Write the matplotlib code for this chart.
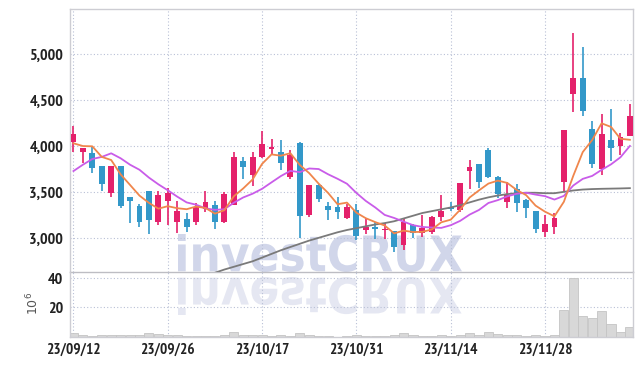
import numpy as np
import matplotlib
matplotlib.use("Agg")
import matplotlib.pyplot as plt
from matplotlib.textpath import TextPath
from matplotlib.patches import PathPatch
from matplotlib.font_manager import FontProperties
from matplotlib import font_manager as fm
import matplotlib.transforms as mtransforms
import os

# ---------------- data ----------------
opens = [4050, 3941, 3927, 3786, 3496, 3786, 3449, 3354, 3514, 3180,
         3409, 3173, 3210, 3173, 3318, 3362, 3173, 3362, 3840, 3688,
         3880, 3971, 3934, 3670, 4039, 3253, 3579, 3351, 3340, 3217,
         3307, 3090, 3127, 3087, 3080, 2927, 3144, 3054, 3072, 3228,
         3336, 3307, 3735, 3804, 3963, 3670, 3398, 3536, 3416, 3296,
         3065, 3119, 3609, 4569, 4746, 4188, 3753, 4069, 4007, 4116]
highs = [4224, 3985, 3996, 3786, 3786, 3786, 3449, 3369, 3514, 3514,
         3551, 3405, 3271, 3380, 3514, 3405, 3500, 3942, 3884, 3934,
         4166, 4080, 4069, 3956, 4051, 3579, 3590, 3391, 3453, 3369,
         3369, 3217, 3173, 3163, 3080, 3210, 3150, 3253, 3240, 3471,
         3391, 3598, 3851, 3804, 3978, 3681, 3616, 3587, 3430, 3296,
         3253, 3271, 4177, 5228, 5076, 4279, 4348, 4402, 4141, 4460]
lows = [3935, 3815, 3706, 3514, 3453, 3333, 3163, 3123, 3050, 3144,
        3144, 3054, 3072, 3144, 3289, 3101, 3165, 3362, 3644, 3572,
        3870, 3913, 3742, 3641, 2999, 3235, 3391, 3199, 3210, 3210,
        2981, 3043, 2992, 2989, 2847, 2872, 2999, 3018, 3043, 3188,
        3296, 3290, 3536, 3543, 3652, 3434, 3333, 3289, 3224, 3054,
        3018, 3043, 3507, 4369, 4326, 3768, 3688, 3844, 3905, 4110]
closes = [4134, 3982, 3761, 3590, 3786, 3354, 3409, 3180, 3198, 3471,
          3489, 3296, 3127, 3344, 3391, 3180, 3482, 3884, 3771, 3884,
          4025, 3996, 3815, 3905, 3246, 3579, 3427, 3307, 3289, 3340,
          3028, 3127, 3098, 3101, 2909, 3180, 3054, 3108, 3228, 3300,
          3318, 3598, 3771, 3616, 3670, 3482, 3471, 3387, 3333, 3101,
          3152, 3224, 4177, 4746, 4384, 3807, 4134, 3985, 4098, 4333]
volumes = [2.7, 1.2, 0.5, 1.2, 1.2, 1.2, 1.2, 1.2, 2.7, 2.0,
           1.2, 1.2, 0.5, 0.5, 0.5, 0.5, 1.2, 3.5, 1.2, 1.2,
           1.2, 0.5, 1.2, 0.5, 2.7, 1.2, 0.5, 0.5, 0.1, 0.3,
           1.2, 0.5, 0.5, 0.5, 1.2, 2.7, 1.2, 0.5, 0.5, 1.2,
           0.5, 1.2, 2.7, 1.2, 3.2, 2.0, 1.2, 1.2, 0.5, 1.2,
           0.5, 1.2, 18.0, 40.0, 14.0, 12.5, 17.3, 8.4, 3.0, 6.5]
ma5 = [4033, 4003, 4000, 3885, 3851, 3695, 3580, 3464, 3385, 3322,
       3349, 3327, 3316, 3345, 3329, 3268, 3305, 3456, 3542, 3640,
       3809, 3912, 3898, 3925, 3797, 3708, 3594, 3493, 3370, 3388,
       3278, 3218, 3176, 3139, 3053, 3083, 3068, 3070, 3096, 3174,
       3202, 3310, 3443, 3521, 3595, 3627, 3602, 3525, 3469, 3355,
       3289, 3239, 3397, 3680, 3937, 4068, 4250, 4211, 4082, 4071]
ma10 = [3731, 3800, 3862, 3885, 3924, 3870, 3800, 3745, 3660, 3587,
        3522, 3453, 3390, 3365, 3326, 3309, 3316, 3386, 3444, 3485,
        3538, 3608, 3677, 3733, 3719, 3759, 3753, 3696, 3647, 3593,
        3493, 3406, 3335, 3254, 3221, 3181, 3143, 3123, 3117, 3113,
        3142, 3189, 3257, 3308, 3384, 3415, 3456, 3484, 3495, 3475,
        3458, 3421, 3461, 3574, 3646, 3678, 3744, 3804, 3881, 4004]
ma_long = [None] * 15 + [
    2625, 2660, 2690, 2720, 2750,
    2790, 2830, 2870, 2905, 2940, 2975, 3005, 3035, 3065, 3090,
    3110, 3130, 3150, 3165, 3185, 3215, 3245, 3275, 3295, 3315,
    3335, 3360, 3390, 3420, 3445, 3465, 3480, 3490, 3495, 3495,
    3490, 3490, 3505, 3520, 3530, 3535, 3538, 3540, 3542, 3545]
date_tick_idx = [0, 10, 20, 30, 40, 50]
date_labels = ["23/09/12", "23/09/26", "23/10/17", "23/10/31", "23/11/14", "23/11/28"]
price_ticks = [3000, 3500, 4000, 4500, 5000]
price_labels = ["3,000", "3,500", "4,000", "4,500", "5,000"]
vol_ticks = [20, 40]
vol_labels = ["20", "40"]


# ---------------- fonts ----------------
def pick_condensed():
    files = [e.fname for e in fm.fontManager.ttflist]
    prefs = [("narrow", "bold"), ("condensed", "bold"), ("condensed", "semibold"),
             ("condensed", "medium"), ("condensed", "")]
    for key, w in prefs:
        for f in sorted(files):
            b = os.path.basename(f).lower()
            if key in b and "italic" not in b and "extra" not in b and "semicondensed" not in b:
                if w == "bold" and ("bold" in b and "semibold" not in b and "extrabold" not in b):
                    return f
                if w == "semibold" and "semibold" in b:
                    return f
                if w == "medium" and "medium" in b:
                    return f
                if w == "" and "regular" in b:
                    return f
    return None


cf = pick_condensed()
if cf:
    YFONT = FontProperties(fname=cf, size=11.5)
    XFONT = FontProperties(fname=cf, size=11)
else:
    YFONT = FontProperties(family="DejaVu Sans", weight="bold", size=9)
    XFONT = FontProperties(family="DejaVu Sans", weight="bold", size=8.5)

# ---------------- style ----------------
RED = "#e4216b"
BLUE = "#3398c9"
ORANGE = "#f0864c"
PURPLE = "#c95ce9"
GRAY = "#7a7a7a"
GRID = "#b9c0d6"
SPINE = "#cdcdd3"
TXT = "#222222"

W, H = 643, 366
fig = plt.figure(figsize=(W / 100, H / 100), dpi=100)
fig.patch.set_facecolor("white")

left, right = 69.5, 633.0
top, mid, bot = 9.3, 272.3, 336.7
ax = fig.add_axes([left / W, 1 - mid / H, (right - left) / W, (mid - top) / H])
axv = fig.add_axes([left / W, 1 - bot / H, (right - left) / W, (bot - mid) / H], sharex=ax)

# watermark (behind axes)
tp = TextPath((0, 0), "investCRUX", size=1, prop=FontProperties(family="DejaVu Sans", weight="bold"))
bb = tp.get_extents()
x0, x1 = 178.0, 462.0
sx = (x1 - x0) / bb.width
up_top, up_base = H - 234.0, H - 272.0
sy = (up_top - up_base) / bb.height
t_up = (mtransforms.Affine2D().translate(-bb.x0, -bb.y0).scale(sx, sy).translate(x0, up_base)
        + mtransforms.Affine2D().scale(1 / W, 1 / H) + fig.transFigure)
fig.add_artist(PathPatch(tp, transform=t_up, facecolor="#d1d6ea", edgecolor="none", zorder=-5))
rf_base, rf_bot = H - 277.0, H - 315.0
sy2 = (rf_base - rf_bot) / bb.height
t_rf = (mtransforms.Affine2D().translate(-bb.x0, -bb.y0).scale(sx, -sy2).translate(x0, rf_base)
        + mtransforms.Affine2D().scale(1 / W, 1 / H) + fig.transFigure)
fig.add_artist(PathPatch(tp, transform=t_rf, facecolor="#e5e7f2", edgecolor="none", zorder=-5))

x = np.arange(len(closes))
o = np.array(opens, float)
c = np.array(closes, float)
hi = np.array(highs, float)
lo = np.array(lows, float)
cols = np.where(c >= o, RED, BLUE)

for a in (ax, axv):
    a.set_facecolor("none")
    a.grid(True, color=GRID, linestyle=(0, (1, 2)), linewidth=0.8)
    a.set_axisbelow(True)
    for s in a.spines.values():
        s.set_color(SPINE)
        s.set_linewidth(1.0)
    a.tick_params(length=0, colors=TXT)

ax.vlines(x, lo, hi, colors=cols, linewidth=1.2, zorder=3)
ax.bar(x, np.maximum(np.abs(c - o), 12), bottom=np.minimum(o, c), width=0.62,
       color=cols, linewidth=0, zorder=4)

ml = np.array([np.nan if v is None else v for v in ma_long], float)
ax.plot(x, ml, color=GRAY, lw=1.3, zorder=5)
ax.plot(x, ma10, color=PURPLE, lw=1.3, zorder=5)
ax.plot(x, ma5, color=ORANGE, lw=1.3, zorder=6)

ax.set_ylim(2630, 5490)
ax.set_xlim(-0.42, 59.33)
ax.set_yticks(price_ticks)
ax.set_yticklabels(price_labels, fontproperties=YFONT)
ax.set_xticks(date_tick_idx)
ax.tick_params(labelbottom=False, pad=4.5)
ax.spines["bottom"].set_color("#bdbdc3")

axv.bar(x, volumes, width=0.96, color="#d8d8d8", edgecolor="#c4c4c4", linewidth=0.6, zorder=2)
axv.set_ylim(0, 44)
axv.set_yticks(vol_ticks)
axv.set_yticklabels(vol_labels, fontproperties=YFONT)
axv.set_xticks(date_tick_idx)
axv.set_xticklabels(date_labels, fontproperties=XFONT)
axv.tick_params(pad=4.5)
axv.spines["top"].set_visible(False)

fig.text(33 / W, 1 - 303 / H, r"$10^6$", rotation=90, ha="center", va="center",
         fontsize=9, color="#555555")

fig.savefig("out.png", dpi=100)
